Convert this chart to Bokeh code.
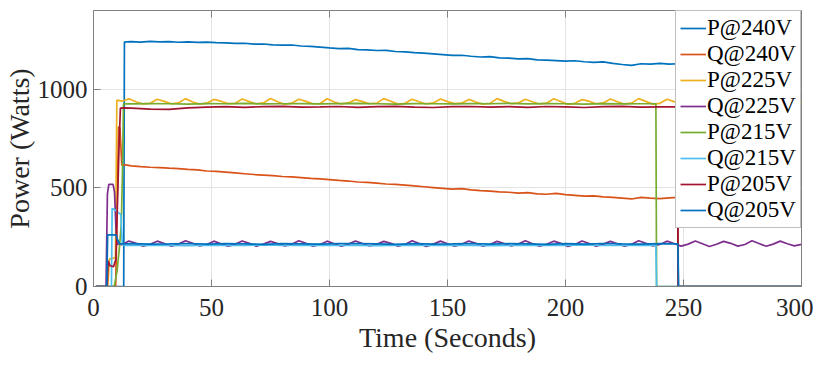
import math
from bokeh.plotting import figure
from bokeh.models import Range1d, FixedTicker, Legend, LegendItem
from bokeh.embed import file_html
from bokeh.resources import INLINE

# ---------------- data ----------------
X_TICKS = [0, 50, 100, 150, 200, 250, 300]
Y_TICKS = [0, 500, 1000]
X_MAX = 300
Y_MAX = 1400

LABELS = ["P@240V", "Q@240V", "P@225V", "Q@225V",
          "P@215V", "Q@215V", "P@205V", "Q@205V"]
COLORS = ["#0072BD", "#D95319", "#EDB120", "#7E2F8E",
          "#77AC30", "#4DBEEE", "#A2142F", "#0072BD"]

# sample grids (seconds)
GRID4 = list(range(16, 248, 4))    # 58 samples, 16..244
GRID3 = list(range(15, 303, 3))    # 96 samples, 15..300
GRID8 = list(range(16, 248, 8))    # 29 samples, 16..240

# P@240V
p240_head_t = [1, 12.8, 13.1, 14]
p240_head_v = [0, 0, 1240, 1241]
p240_vals = [1242, 1240, 1243, 1241, 1242, 1239, 1241, 1238, 1240, 1237,
             1236, 1233, 1234, 1229, 1230, 1226, 1224, 1225, 1220, 1218,
             1214, 1210, 1207, 1208, 1202, 1200, 1197, 1198, 1192, 1190,
             1186, 1184, 1180, 1176, 1172, 1173, 1168, 1164, 1166, 1160,
             1158, 1155, 1156, 1150, 1148, 1146, 1143, 1145, 1140, 1137,
             1139, 1132, 1126, 1122, 1130, 1128, 1132, 1128]
p240_tail_t = [247.5, 247.8, 300]
p240_tail_v = [1130, 0, 0]

# Q@240V
q240_head_t = [1, 9.4, 10.6, 11.2, 12, 13]
q240_head_v = [0, 0, 810, 805, 615, 618]
q240_vals = [612, 608, 605, 603, 600, 598, 594, 592, 586, 584,
             580, 576, 572, 568, 565, 562, 558, 556, 552, 548,
             546, 542, 538, 535, 530, 528, 524, 520, 518, 514,
             510, 506, 502, 498, 494, 496, 490, 486, 484, 480,
             478, 474, 476, 470, 468, 472, 466, 462, 458, 460,
             455, 452, 448, 444, 452, 448, 446, 450]
q240_tail_t = [247.5, 247.8, 300]
q240_tail_v = [452, 0, 0]

# P@225V
p225_head_t = [1, 6, 6.8, 9.3, 9.9, 12]
p225_head_v = [0, 0, 140, 145, 945, 940]
p225_vals = [952, 937, 926, 929, 950, 939, 927, 931, 953, 936, 925, 930,
             949, 940, 928, 929, 951, 938, 926, 931, 954, 937, 924, 930,
             950, 939, 927, 928, 952, 936, 926, 931, 948, 938, 927, 930,
             953, 940, 925, 929, 950, 937, 926, 931, 951, 938, 928, 930,
             949, 936, 925, 929, 953, 939, 927, 931, 950, 937, 926, 930,
             952, 938, 924, 929, 948, 940, 927, 931, 951, 937, 926, 930,
             953, 939, 925, 929, 950, 938, 926, 931, 952, 937, 927, 930,
             949, 938, 926, 929, 951, 939, 925, 931, 953, 937, 926, 930]
p225_tail_t = []
p225_tail_v = []

# Q@225V
q225_head_t = [1, 5.3, 5.9, 6.5, 8.3, 8.9, 9.5, 10, 12]
q225_head_v = [0, 0, 470, 518, 518, 480, 300, 215, 212]
q225_vals = [231, 219, 205, 214, 230, 218, 204, 215, 232, 219, 206, 213,
             230, 217, 205, 214, 231, 219, 204, 215, 229, 218, 206, 214,
             232, 219, 205, 213, 230, 217, 204, 215, 231, 218, 206, 214,
             229, 219, 205, 213, 232, 218, 203, 215, 230, 217, 205, 214,
             231, 219, 204, 213, 229, 218, 206, 215, 232, 217, 205, 214,
             230, 219, 203, 213, 231, 218, 205, 215, 229, 217, 204, 214,
             232, 219, 206, 213, 230, 218, 205, 215, 231, 217, 203, 214,
             229, 219, 205, 213, 232, 218, 204, 215, 230, 217, 206, 214]
q225_tail_t = []
q225_tail_v = []

# P@215V
p215_head_t = [1, 8.8, 10, 11, 11.8, 12.3, 12.7, 14]
p215_head_v = [0, 0, 80, 200, 320, 600, 925, 927]
p215_vals = [926, 928, 927, 925, 928, 927, 929, 926, 927, 928,
             926, 928, 929, 927, 925, 928, 927, 926, 928, 927,
             929, 926, 928, 927, 925, 928, 926, 927, 928]
p215_tail_t = [238.3, 238.6, 300]
p215_tail_v = [927, 0, 0]

# Q@215V
q215_head_t = [1, 7.6, 7.9, 9, 10.5, 11.6, 12.2, 13]
q215_head_v = [0, 0, 395, 390, 375, 365, 214, 209]
q215_vals = [208, 210, 209, 207, 210, 208, 209, 211, 208, 209,
             210, 208, 209, 207, 210, 209, 208, 210, 209, 207,
             209, 210, 208, 209, 211, 208, 209, 210, 208]
q215_tail_t = [238.3, 238.6, 300]
q215_tail_v = [209, 0, 0]

# P@205V
p205_head_t = [1, 5.8, 6.2, 7, 8.5, 9.5, 10.8, 11.4, 13]
p205_head_v = [0, 0, 130, 105, 100, 140, 700, 905, 906]
p205_vals = [905, 900, 898, 906, 910, 912, 909, 912, 914, 910,
             911, 913, 909, 912, 914, 910, 908, 912, 913, 910,
             912, 909, 913, 911, 908, 912, 914, 910, 911]
p205_tail_t = [247.4, 247.7, 300]
p205_tail_v = [911, 0, 0]

# Q@205V
q205_head_t = [1, 5.6, 6, 9.5, 10.3, 11, 13]
q205_head_v = [0, 0, 262, 262, 235, 217, 216]
q205_vals = [217, 215, 216, 218, 215, 217, 216, 214, 217, 216,
             215, 217, 218, 216, 214, 217, 215, 216, 218, 215,
             217, 216, 214, 217, 215, 218, 216, 215, 217]
q205_tail_t = [246, 247.6, 247.9, 300]
q205_tail_v = [216, 216, 0, 0]

SERIES = [
    (p240_head_t, p240_head_v, GRID4, p240_vals, p240_tail_t, p240_tail_v),
    (q240_head_t, q240_head_v, GRID4, q240_vals, q240_tail_t, q240_tail_v),
    (p225_head_t, p225_head_v, GRID3, p225_vals, p225_tail_t, p225_tail_v),
    (q225_head_t, q225_head_v, GRID3, q225_vals, q225_tail_t, q225_tail_v),
    (p215_head_t, p215_head_v, GRID8, p215_vals, p215_tail_t, p215_tail_v),
    (q215_head_t, q215_head_v, GRID8, q215_vals, q215_tail_t, q215_tail_v),
    (p205_head_t, p205_head_v, GRID8, p205_vals, p205_tail_t, p205_tail_v),
    (q205_head_t, q205_head_v, GRID8, q205_vals, q205_tail_t, q205_tail_v),
]

# ---------------- figure ----------------
FONT = "Liberation Serif"
AX = "#808080"
TXT = "#262626"

p = figure(frame_width=708, frame_height=276,
           output_backend="svg", toolbar_location=None,
           x_range=Range1d(0, X_MAX), y_range=Range1d(0, Y_MAX),
           min_border_left=86, min_border_right=12,
           min_border_top=10, min_border_bottom=10,
           x_axis_label="Time (Seconds)", y_axis_label="Power (Watts)")
p.background_fill_color = "white"
p.border_fill_color = "white"
p.outline_line_color = AX
p.outline_line_width = 1

for ax, ticks in ((p.xaxis[0], X_TICKS), (p.yaxis[0], Y_TICKS)):
    ax.ticker = FixedTicker(ticks=ticks, minor_ticks=[])
    ax.major_tick_in = 7
    ax.major_tick_out = 0
    ax.major_tick_line_color = AX
    ax.axis_line_color = AX
    ax.major_label_text_font = FONT
    ax.major_label_text_font_size = "25px"
    ax.major_label_text_color = TXT
    ax.axis_label_text_font = FONT
    ax.axis_label_text_font_size = "28px"
    ax.axis_label_text_font_style = "normal"
    ax.axis_label_text_color = TXT

p.xaxis[0].major_label_standoff = 12
p.xaxis[0].axis_label_standoff = 3
p.yaxis[0].major_label_standoff = 6
p.yaxis[0].axis_label_standoff = 0

# inward ticks along the top edge of the box (MATLAB style)
p.ray(x=X_TICKS, y=[Y_MAX] * len(X_TICKS), length=7, length_units="screen",
      angle=-math.pi / 2, line_color=AX, line_width=1)

p.xgrid.ticker = FixedTicker(ticks=X_TICKS)
p.ygrid.ticker = FixedTicker(ticks=Y_TICKS)
p.grid.grid_line_color = "#e3e3e3"
p.grid.grid_line_width = 1

items = []
for (ht, hv, grid, vals, tt, tv), lab, col in zip(SERIES, LABELS, COLORS):
    t_end = tt[0] if tt else 1e9
    xs = list(ht)
    ys = list(hv)
    for t, v in zip(grid, vals):
        if t < t_end:
            xs.append(t)
            ys.append(v)
    xs += tt
    ys += tv
    r = p.line(xs, ys, line_color=col, line_width=1.7)
    items.append(LegendItem(label=lab, renderers=[r]))

legend = Legend(items=items, location="top_right", margin=0, padding=4,
                spacing=0, label_text_font=FONT, label_text_font_size="23px",
                label_text_color="#000000", label_height=26, glyph_height=26,
                glyph_width=26, label_standoff=1, label_width=89,
                border_line_color=AX, border_line_width=1,
                background_fill_color="white", background_fill_alpha=1.0)
p.add_layout(legend)

open("out.html", "w").write(file_html(p, INLINE))
